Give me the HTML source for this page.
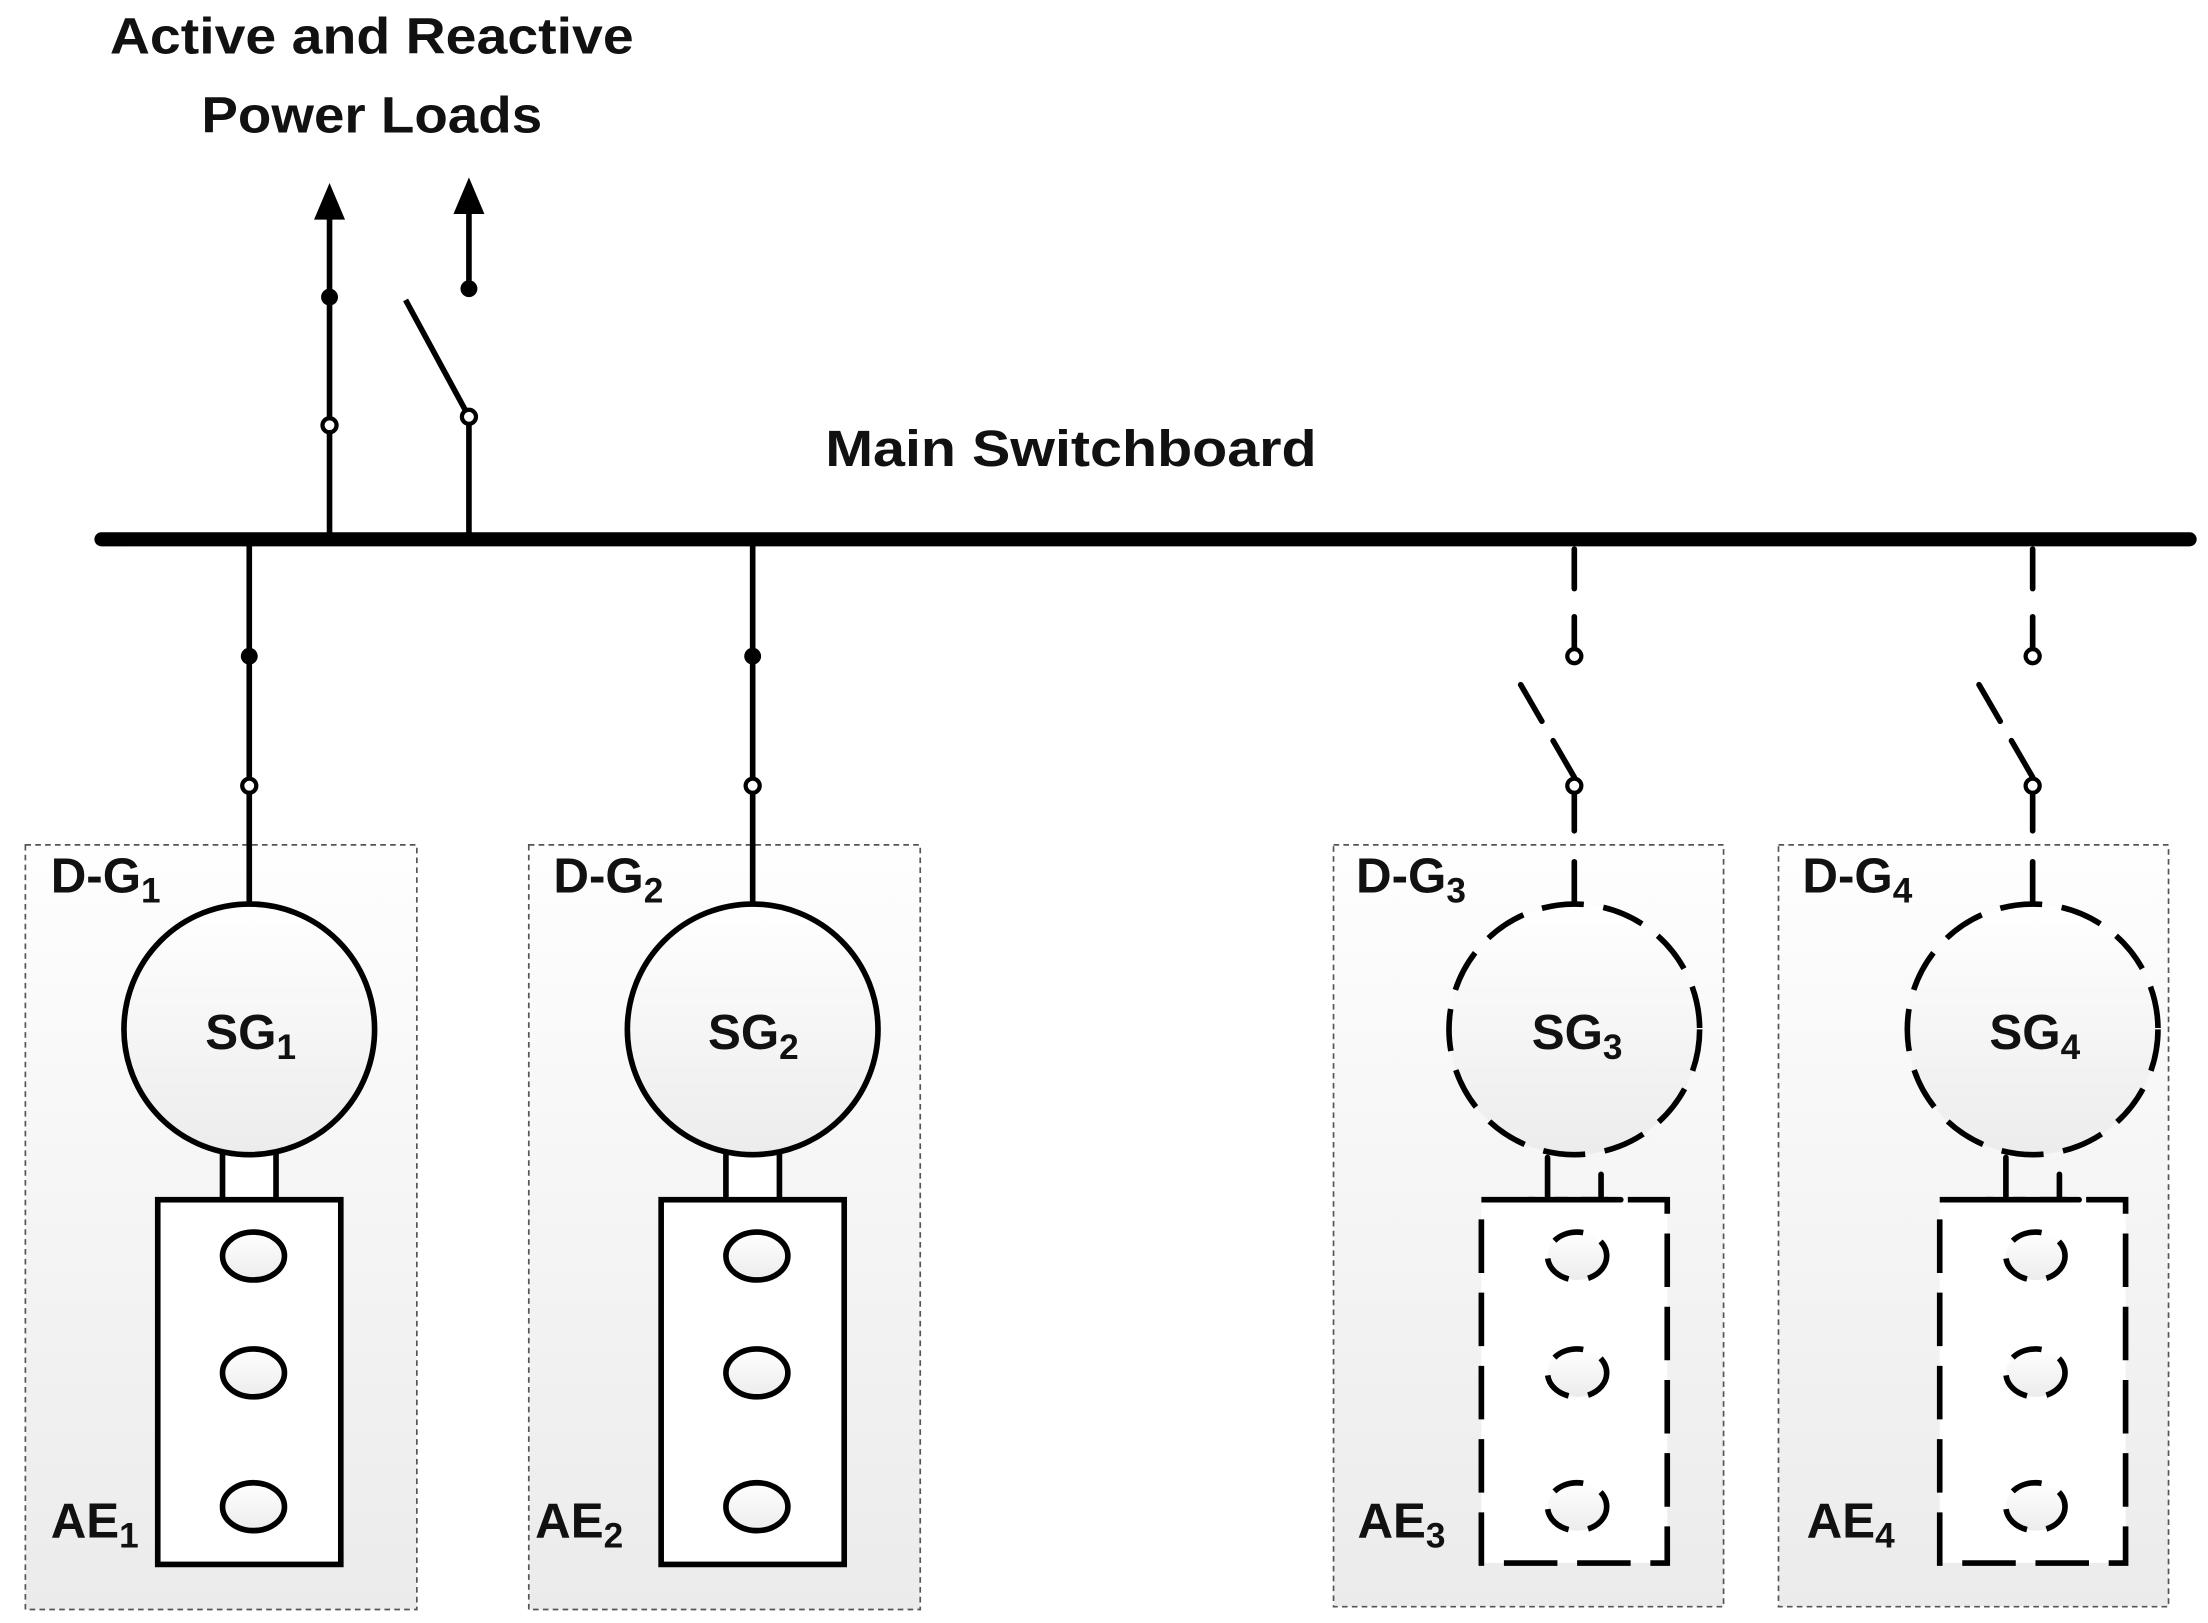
<!DOCTYPE html>
<html><head><meta charset="utf-8"><style>
html,body{margin:0;padding:0;background:#fff}
svg{display:block}
text{font-family:"Liberation Sans",sans-serif;font-weight:bold;fill:#111}
</style></head><body>
<svg width="2208" height="1623" viewBox="0 0 1568 1152.6" xmlns="http://www.w3.org/2000/svg">
<defs>
<linearGradient id="bg" x1="0" y1="0" x2="0" y2="1"><stop offset="0" stop-color="#fefefe"/><stop offset="1" stop-color="#ebebeb"/></linearGradient>
<linearGradient id="cg" x1="0" y1="0" x2="0" y2="1"><stop offset="0" stop-color="#ffffff"/><stop offset="1" stop-color="#ececec"/></linearGradient>
</defs>
<text x="78" y="38" font-size="36" textLength="372" lengthAdjust="spacingAndGlyphs">Active and Reactive</text>
<text x="143" y="94" font-size="36" textLength="242" lengthAdjust="spacingAndGlyphs">Power Loads</text>
<text x="586" y="331" font-size="36" textLength="349" lengthAdjust="spacingAndGlyphs">Main Switchboard</text>

<!-- bus -->
<line x1="72" y1="383" x2="1555" y2="383" stroke="#000" stroke-width="10" stroke-linecap="round"/>

<!-- loads -->
<g stroke="#000" stroke-width="4" fill="none">
<line x1="234" y1="383" x2="234" y2="150"/>
<line x1="333" y1="383" x2="333" y2="300"/>
<line x1="333" y1="296" x2="288" y2="213"/>
<line x1="333" y1="205" x2="333" y2="150"/>
</g>
<polygon points="234,130 223,156 245,156" fill="#000"/>
<polygon points="333,126 322,152 344,152" fill="#000"/>
<circle cx="234" cy="211" r="6" fill="#000"/>
<circle cx="234" cy="302" r="5" fill="#fff" stroke="#000" stroke-width="3"/>
<circle cx="333" cy="296" r="5" fill="#fff" stroke="#000" stroke-width="3"/>
<circle cx="333" cy="205" r="6" fill="#000"/>

<!-- solid generators -->
<g id="g1">
<rect x="18" y="600" width="278" height="543" fill="url(#bg)" stroke="#555" stroke-width="1.2" stroke-dasharray="4,3"/>
<line x1="177" y1="383" x2="177" y2="642" stroke="#000" stroke-width="4"/>
<circle cx="177" cy="466" r="6" fill="#000"/>
<circle cx="177" cy="558" r="5" fill="#fff" stroke="#000" stroke-width="3"/>
<rect x="158" y="815" width="38" height="38" fill="#fff" stroke="#000" stroke-width="4"/>
<circle cx="177" cy="731" r="89" fill="url(#cg)" stroke="#000" stroke-width="4"/>
<rect x="112" y="852" width="130" height="259" fill="#fff" stroke="#000" stroke-width="4"/>
<ellipse cx="180" cy="892" rx="22" ry="17" fill="url(#cg)" stroke="#000" stroke-width="4"/>
<ellipse cx="180" cy="975" rx="22" ry="17" fill="url(#cg)" stroke="#000" stroke-width="4"/>
<ellipse cx="180" cy="1070" rx="22" ry="17" fill="url(#cg)" stroke="#000" stroke-width="4"/>
</g>
<use href="#g1" transform="translate(357.5,0)"/>

<!-- dashed generator boxes -->
<rect x="947" y="600" width="277" height="541" fill="url(#bg)" stroke="#555" stroke-width="1.2" stroke-dasharray="4,3"/>
<rect x="1263" y="600" width="277" height="541" fill="url(#bg)" stroke="#555" stroke-width="1.2" stroke-dasharray="4,3"/>

<g id="g3">
<g stroke="#000" stroke-width="4" fill="none" stroke-linecap="round">
<line x1="1118" y1="390" x2="1118" y2="418"/>
<line x1="1118" y1="438" x2="1118" y2="460"/>
<line x1="1118" y1="552" x2="1074" y2="476" stroke-dasharray="30,16"/>
<line x1="1118" y1="565" x2="1118" y2="590"/>
<line x1="1118" y1="612" x2="1118" y2="640"/>
</g>
<circle cx="1118" cy="466" r="5" fill="#fff" stroke="#000" stroke-width="3"/>
<circle cx="1118" cy="558" r="5" fill="#fff" stroke="#000" stroke-width="3"/>
<circle cx="1118" cy="731" r="89" fill="url(#cg)" stroke="#000" stroke-width="4" stroke-dasharray="30,14"/>
<rect x="1052" y="852" width="132" height="258" fill="#fff" stroke="#000" stroke-width="4" stroke-dasharray="38,14"/>
<g stroke="#000" stroke-width="4" stroke-linecap="round">
<line x1="1099" y1="822" x2="1099" y2="852"/>
<line x1="1137" y1="834" x2="1137" y2="852"/>
<line x1="1085" y1="852" x2="1113" y2="852"/>
<line x1="1123" y1="852" x2="1151" y2="852"/>
</g>
<ellipse cx="1120" cy="892" rx="21" ry="17" fill="url(#cg)" stroke="#000" stroke-width="4" stroke-dasharray="22,14"/>
<ellipse cx="1120" cy="975" rx="21" ry="17" fill="url(#cg)" stroke="#000" stroke-width="4" stroke-dasharray="22,14"/>
<ellipse cx="1120" cy="1070" rx="21" ry="17" fill="url(#cg)" stroke="#000" stroke-width="4" stroke-dasharray="22,14"/>
</g>
<use href="#g3" transform="translate(325.5,0)"/>

<g font-size="35">
<text x="36" y="634">D-G<tspan font-size="25" dy="7">1</tspan></text>
<text x="178" y="745" text-anchor="middle">SG<tspan font-size="25" dy="7">1</tspan></text>
<text x="36" y="1092">AE<tspan font-size="25" dy="7">1</tspan></text>
<text x="393" y="634">D-G<tspan font-size="25" dy="7">2</tspan></text>
<text x="535" y="745" text-anchor="middle">SG<tspan font-size="25" dy="7">2</tspan></text>
<text x="380" y="1092">AE<tspan font-size="25" dy="7">2</tspan></text>
<text x="963" y="634">D-G<tspan font-size="25" dy="7">3</tspan></text>
<text x="1120" y="745" text-anchor="middle">SG<tspan font-size="25" dy="7">3</tspan></text>
<text x="964" y="1092">AE<tspan font-size="25" dy="7">3</tspan></text>
<text x="1280" y="634">D-G<tspan font-size="25" dy="7">4</tspan></text>
<text x="1445" y="745" text-anchor="middle">SG<tspan font-size="25" dy="7">4</tspan></text>
<text x="1283" y="1092">AE<tspan font-size="25" dy="7">4</tspan></text>
</g>
</svg>
</body></html>
